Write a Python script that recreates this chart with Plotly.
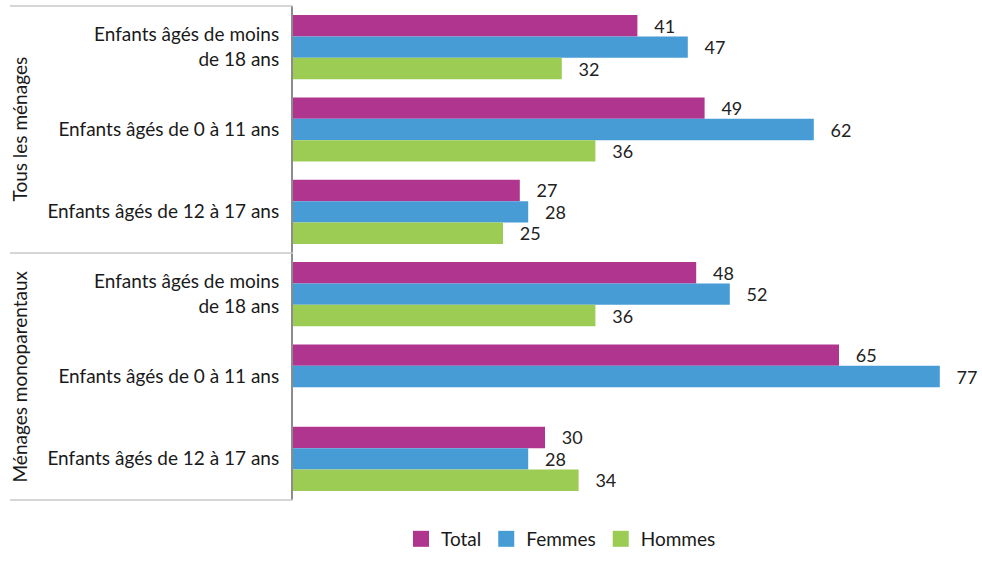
import plotly.graph_objects as go

cat_ids = ["t1", "t2", "t3", "m1", "m2", "m3"]
cat_labels = [
    "Enfants âgés de moins<br>de 18 ans",
    "Enfants âgés de 0 à 11 ans",
    "Enfants âgés de 12 à 17 ans",
    "Enfants âgés de moins<br>de 18 ans",
    "Enfants âgés de 0 à 11 ans",
    "Enfants âgés de 12 à 17 ans",
]
groups = ["Tous les ménages", "Ménages monoparentaux"]

total = [41, 49, 27, 48, 65, 30]
femmes = [47, 62, 28, 52, 77, 28]
hommes = [32, 36, 25, 36, None, 34]

series = [("Total", total, "#B0358F"), ("Femmes", femmes, "#479CD6"), ("Hommes", hommes, "#9DCC55")]

FONT = "Lato"
FS = 19

fig = go.Figure()
for name, vals, col in series:
    fig.add_trace(go.Bar(
        y=cat_ids, x=vals, name=name, orientation="h",
        marker=dict(color=col, line=dict(width=0)),
        texttemplate="\u00a0\u00a0\u00a0%{x}", textposition="outside",
        textfont=dict(size=18, color="#222222", family=FONT),
        cliponaxis=False, constraintext="none", showlegend=False,
    ))
# legend entries with larger square swatches
for name, vals, col in series:
    fig.add_trace(go.Scatter(
        x=[None], y=[None], mode="markers", name=name,
        marker=dict(symbol="square", size=16, color=col), showlegend=True,
    ))

L, R, T, B = 293, 17, 6, 51
W, H = 982, 564
pw = W - L - R
ph = H - T - B

fig.update_layout(
    width=W, height=H,
    margin=dict(l=L, r=R, t=T, b=B, pad=0),
    barmode="group", bargap=0.22, bargroupgap=0,
    plot_bgcolor="white", paper_bgcolor="white",
    font=dict(family=FONT, size=FS, color="#1a1a1a"),
    xaxis=dict(range=[0, 80], showticklabels=False, showgrid=False, zeroline=False, showline=False),
    yaxis=dict(type="category", autorange="reversed", tickvals=cat_ids, ticktext=cat_labels,
               showline=True, linecolor="#8c8c8c", linewidth=2, showgrid=False,
               ticks="", ticklabelstandoff=8, tickfont=dict(size=FS, family=FONT, color="#1a1a1a")),
    legend=dict(orientation="h", xanchor="center", x=(561 - L) / pw, yanchor="middle",
                y=(T + ph - 553) / ph, font=dict(size=FS, family=FONT, color="#1a1a1a"),
                traceorder="normal", itemwidth=30),
    showlegend=True,
)

# group labels
for i, g in enumerate(groups):
    fig.add_annotation(text=g, xref="paper", yref="paper", x=(19 - L) / pw, y=0.75 - 0.5 * i,
                       textangle=-90, showarrow=False, xanchor="center", yanchor="middle",
                       font=dict(size=FS, family=FONT, color="#1a1a1a"))

# divider lines
for yy in [1, 0.5, 0]:
    fig.add_shape(type="line", xref="paper", yref="paper", x0=(10 - L) / pw, x1=0, y0=yy, y1=yy,
                  line=dict(color="#c8c8c8", width=1.5))

fig.write_html("out.html")
